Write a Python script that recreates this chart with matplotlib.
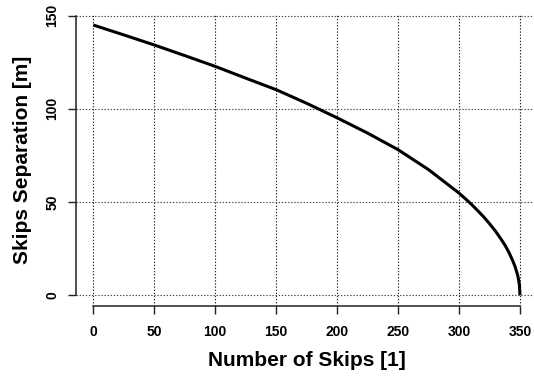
import matplotlib
matplotlib.use("Agg")
import matplotlib.pyplot as plt

# values
skips = [0, 25, 50, 75, 100, 125, 150, 175, 200, 225, 250, 275, 300,
         305, 310, 315, 320, 325, 330, 335, 338, 341, 344, 346, 348, 349, 349.6, 350]
separation = [145.0, 139.7, 134.3, 128.6, 122.8, 116.5, 110.3, 103.0, 95.2, 87.0,
              78.1, 67.4, 54.8, 51.9, 48.9, 45.6, 42.2, 38.4, 34.3, 29.6, 26.5,
              22.9, 18.6, 15.3, 11.0, 7.8, 5.0, 0.0]

x_ticks = [0, 50, 100, 150, 200, 250, 300, 350]
y_ticks = [0, 50, 100, 150]

plt.rcParams['font.family'] = ['Liberation Sans', 'DejaVu Sans']
plt.rcParams['font.weight'] = 'bold'

fig = plt.figure(figsize=(5.34, 3.77), dpi=100)
ax = fig.add_axes([0.1427, 0.1883, 0.863, 0.774])

ax.plot(skips, separation, color='black', lw=2.2, solid_capstyle='butt',
        solid_joinstyle='round', zorder=3)

ax.set_xlim(-14, 364)
ax.set_ylim(-5.8, 150.8)

ax.set_xticks(x_ticks)
ax.set_yticks(y_ticks)
for v in x_ticks:
    ax.axvline(v, color='#222222', lw=0.8, ls=(0, (1.2, 1.6)), zorder=1)
for v in y_ticks:
    ax.axhline(v, color='#444444', lw=0.8, ls=(0, (1.2, 1.6)), zorder=1)

for side in ['top', 'right']:
    ax.spines[side].set_visible(False)
ax.spines['left'].set_bounds(0, 150)
ax.spines['bottom'].set_bounds(0, 350)
for side in ['left', 'bottom']:
    ax.spines[side].set_linewidth(1.1)
    ax.spines[side].set_color('#222222')

ax.tick_params(axis='both', direction='out', length=6, width=1.0, color='#222222',
               labelsize=10)
ax.tick_params(axis='x', pad=8)
ax.tick_params(axis='y', pad=6)
for lab in ax.get_yticklabels():
    lab.set_rotation(90)
    lab.set_va('center')
for lab in ax.get_xticklabels() + ax.get_yticklabels():
    lab.set_fontweight('bold')

ax.set_xlabel('Number of Skips [1]', fontsize=15, fontweight='bold', labelpad=8)
ax.set_ylabel('Skips Separation [m]', fontsize=15, fontweight='bold', labelpad=10)

fig.savefig('out.png', dpi=100)
